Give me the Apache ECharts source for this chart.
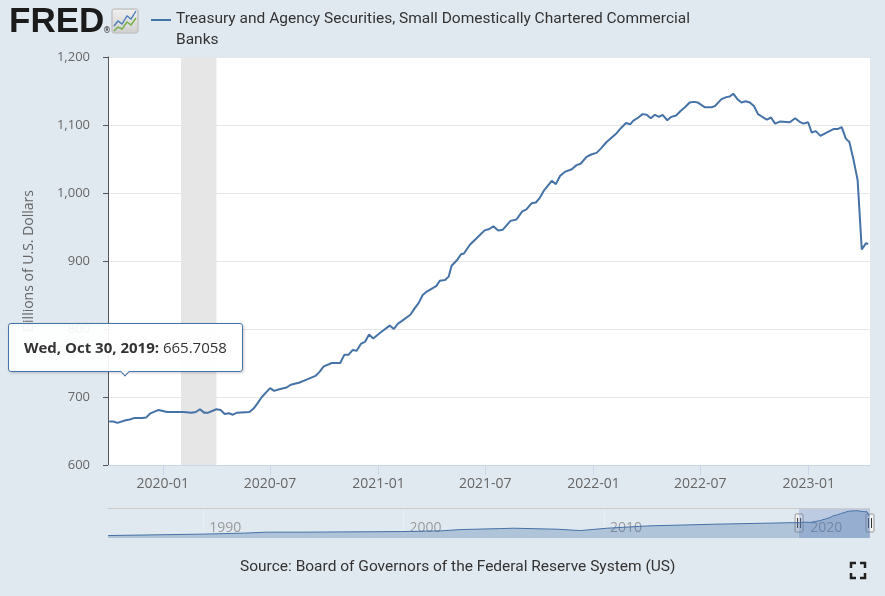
<!DOCTYPE html>
<html>
<head>
<meta charset="utf-8">
<script src="https://cdn.jsdelivr.net/npm/echarts@6/dist/echarts.min.js"></script>
<style>
  html, body { margin: 0; padding: 0; background: #e1e9f0; }
  #chart { width: 885px; height: 596px; }
</style>
</head>
<body>
<div id="chart"></div>
<script>
// series (billions of U.S. dollars, weekly-ish)
const seriesName = 'Treasury and Agency Securities, Small Domestically Chartered Commercial Banks';
const sourceText = 'Source: Board of Governors of the Federal Reserve System (US)';

const dates = [
  '2019-10-02', '2019-10-09', '2019-10-16', '2019-10-30', '2019-11-06', '2019-11-13', '2019-11-27',
  '2019-12-04', '2019-12-11', '2019-12-25', '2020-01-08', '2020-02-05', '2020-02-19', '2020-02-26',
  '2020-03-04', '2020-03-11', '2020-03-18', '2020-04-01', '2020-04-08', '2020-04-15', '2020-04-22',
  '2020-04-29', '2020-05-06', '2020-05-27', '2020-06-03', '2020-06-10', '2020-06-17', '2020-07-01',
  '2020-07-08', '2020-07-15', '2020-07-29', '2020-08-05', '2020-08-19', '2020-09-02', '2020-09-16',
  '2020-09-23', '2020-09-30', '2020-10-14', '2020-10-28', '2020-11-04', '2020-11-11', '2020-11-18',
  '2020-11-25', '2020-12-02', '2020-12-09', '2020-12-16', '2020-12-23', '2021-01-06', '2021-01-20',
  '2021-01-27', '2021-02-03', '2021-02-10', '2021-02-24', '2021-03-03', '2021-03-10', '2021-03-17',
  '2021-03-24', '2021-04-03', '2021-04-09', '2021-04-15', '2021-04-24', '2021-04-30', '2021-05-05',
  '2021-05-14', '2021-05-21', '2021-05-26', '2021-06-05', '2021-06-16', '2021-06-30', '2021-07-08',
  '2021-07-15', '2021-07-23', '2021-07-31', '2021-08-13', '2021-08-23', '2021-09-02', '2021-09-09',
  '2021-09-18', '2021-09-25', '2021-10-01', '2021-10-09', '2021-10-22', '2021-10-29', '2021-11-05',
  '2021-11-13', '2021-11-25', '2021-12-03', '2021-12-10', '2021-12-20', '2021-12-29', '2022-01-06',
  '2022-01-14', '2022-01-23', '2022-01-27', '2022-02-09', '2022-02-17', '2022-02-25', '2022-03-04',
  '2022-03-09', '2022-03-18', '2022-03-25', '2022-04-01', '2022-04-08', '2022-04-15', '2022-04-22',
  '2022-04-28', '2022-05-06', '2022-05-13', '2022-05-21', '2022-05-29', '2022-06-05', '2022-06-13',
  '2022-06-20', '2022-06-27', '2022-07-09', '2022-07-20', '2022-07-26', '2022-08-06', '2022-08-14',
  '2022-08-20', '2022-08-26', '2022-09-02', '2022-09-09', '2022-09-16', '2022-09-23', '2022-09-30',
  '2022-10-07', '2022-10-16', '2022-10-22', '2022-10-29', '2022-11-05', '2022-11-13', '2022-11-30',
  '2022-12-09', '2022-12-16', '2022-12-23', '2022-12-31', '2023-01-06', '2023-01-13', '2023-01-21',
  '2023-02-01', '2023-02-12', '2023-02-19', '2023-02-26', '2023-03-05', '2023-03-11', '2023-03-18',
  '2023-03-25', '2023-04-01', '2023-04-08', '2023-04-12'
];
const values = [
  664, 664, 662, 665.7058, 667, 669, 669,
  670, 676, 681, 678, 678, 677, 678,
  682, 677, 677, 682, 681, 675, 676,
  674, 677, 678, 683, 691, 700, 713,
  709, 711, 714, 718, 721, 726, 731,
  737, 745, 750, 750, 762, 762, 769,
  768, 778, 781, 792, 786, 796, 805,
  800, 808, 812, 821, 830, 838, 850,
  855, 860, 863, 871, 872, 877, 893,
  901, 910, 911, 924, 933, 945, 947,
  951, 945, 946, 959, 961, 973, 976,
  985, 986, 992, 1004, 1018, 1013, 1025,
  1031, 1035, 1041, 1043, 1053, 1057, 1059,
  1066, 1075, 1078, 1088, 1096, 1103, 1101,
  1106, 1111, 1116, 1115, 1110, 1115, 1112,
  1115, 1107, 1112, 1114, 1121, 1126, 1133,
  1134, 1133, 1126, 1126, 1128, 1138, 1141,
  1142, 1146, 1138, 1133, 1135, 1133, 1128,
  1116, 1111, 1108, 1111, 1102, 1105, 1104,
  1110, 1105, 1102, 1104, 1089, 1091, 1084,
  1089, 1094, 1094, 1097, 1080, 1075, 1049,
  1019, 917, 926, 925
];

// longer history shown only in the navigator strip
const histDates = [
  '1985-04-03', '1989-11-01', '1992-01-01', '1993-03-01', '1994-11-01', '1999-11-01', '2001-11-01',
  '2002-11-01', '2004-11-01', '2005-07-01', '2007-09-01', '2008-11-01', '2010-03-01', '2012-03-01',
  '2015-07-01', '2018-01-01', '2019-07-01'
];
const histValues = [
  156, 211, 250, 289, 289, 312, 340,
  391, 430, 445, 406, 352, 445, 535,
  602, 641, 664
];

const recession = ['2020-02-01', '2020-04-01'];
const tickLabels = ['2020-01', '2020-07', '2021-01', '2021-07', '2022-01', '2022-07', '2023-01'];
const navTickLabels = ['1990', '2000', '2010', '2020'];
const viewRange = ['2019-09-30', '2023-04-15'];
const navRange = ['1985-04-01', '2023-04-15'];
const tipDate = '2019-10-30';

const blue = '#4572a7';
const toTime = s => echarts.number.parseDate(s).getTime();

const mainData = dates.map((d, i) => [toTime(d), values[i]]);
const navData = histDates.map((d, i) => [toTime(d), histValues[i]]).concat(mainData);
const tipIndex = dates.indexOf(tipDate);
const tickValues = tickLabels.map(s => toTime(s + '-01'));
const navTickValues = navTickLabels.map(s => toTime(s + '-01-01'));

const chart = echarts.init(document.getElementById('chart'));

const iconGrad = new echarts.graphic.LinearGradient(0, 0, 0, 1, [
  { offset: 0, color: '#f0f0f0' },
  { offset: 1, color: '#cfcfcf' }
]);

const deco = [
  { type: 'text', x: 9, y: 5, style: { text: 'FRED', font: 'bold 35px "Liberation Sans", Arial, sans-serif', fill: '#1b1b1b', verticalAlign: 'top' } },
  { type: 'text', x: 103, y: 27, style: { text: '®', font: '8px "DejaVu Sans", sans-serif', fill: '#1b1b1b', verticalAlign: 'top' } },
  { type: 'rect', shape: { x: 112, y: 9, width: 26, height: 24, r: 2 }, style: { fill: iconGrad, stroke: '#c4c4c4' } },
  { type: 'polyline', shape: { points: [[114, 26], [118, 21], [122, 24], [127, 16], [131, 19], [136, 11]] }, style: { stroke: '#4a7bb7', lineWidth: 1.4, fill: null } },
  { type: 'polyline', shape: { points: [[114, 31], [118, 27], [122, 29], [127, 22], [131, 25], [136, 18]] }, style: { stroke: '#76b043', lineWidth: 1.4, fill: null } },
  { type: 'rect', shape: { x: 151, y: 19, width: 20, height: 2 }, style: { fill: blue } },
  { type: 'text', x: 176, y: 9, style: { text: seriesName, width: 528, overflow: 'break', lineHeight: 21, font: '15.5px Roboto', fill: '#333', verticalAlign: 'top' } },
  { type: 'text', x: 240, y: 559, style: { text: sourceText, font: '15.5px Roboto', fill: '#333', verticalAlign: 'top' } },
  { type: 'polyline', shape: { points: [[851, 568], [851, 563], [856, 563]] }, style: { stroke: '#222', lineWidth: 2.5, fill: null } },
  { type: 'polyline', shape: { points: [[860, 563], [865, 563], [865, 568]] }, style: { stroke: '#222', lineWidth: 2.5, fill: null } },
  { type: 'polyline', shape: { points: [[851, 573], [851, 578], [856, 578]] }, style: { stroke: '#222', lineWidth: 2.5, fill: null } },
  { type: 'polyline', shape: { points: [[860, 578], [865, 578], [865, 573]] }, style: { stroke: '#222', lineWidth: 2.5, fill: null } }
];

chart.setOption({
  animation: false,
  backgroundColor: '#e1e9f0',
  textStyle: { fontFamily: '"Open Sans", sans-serif' },
  grid: [
    { left: 108, right: 15, top: 57, height: 408, show: true, backgroundColor: '#ffffff', borderWidth: 0 },
    { left: 108, right: 15, top: 508, height: 30 }
  ],
  tooltip: {
    trigger: 'item',
    triggerOn: 'none',
    alwaysShowContent: true,
    position: 'top',
    transitionDuration: 0,
    backgroundColor: 'rgba(255,255,255,0.93)',
    borderColor: blue,
    borderWidth: 1,
    padding: [12, 15],
    textStyle: { color: '#333', fontSize: 15, fontFamily: '"Open Sans", sans-serif' },
    extraCssText: 'border-radius:3px;box-shadow:1px 1px 3px rgba(0,0,0,0.2);',
    formatter: p => '<b>' + echarts.time.format(p.value[0], '{ee}, {MMM} {d}, {yyyy}', false) + ':</b> ' + p.value[1]
  },
  xAxis: [
    {
      type: 'value',
      gridIndex: 0,
      min: toTime(viewRange[0]),
      max: toTime(viewRange[1]),
      axisLine: { lineStyle: { color: '#ccd6eb' } },
      axisTick: { show: true, length: 10, customValues: tickValues, lineStyle: { color: '#ccd6eb' } },
      axisLabel: {
        customValues: tickValues,
        formatter: v => echarts.time.format(v, '{yyyy}-{MM}', false),
        color: '#666', fontSize: 14, margin: 12
      },
      splitLine: { show: false }
    },
    {
      type: 'value',
      gridIndex: 1,
      min: toTime(navRange[0]),
      max: toTime(navRange[1]),
      axisLine: { show: false },
      axisTick: { show: false, customValues: navTickValues },
      axisLabel: {
        customValues: navTickValues,
        formatter: v => echarts.time.format(v, '{yyyy}', false),
        inside: true, align: 'left', padding: [0, 0, 0, 6],
        color: '#9a9a9a', fontSize: 14, margin: 3
      },
      splitLine: { show: true, lineStyle: { color: '#eaeef2' } }
    }
  ],
  yAxis: [
    {
      type: 'value',
      gridIndex: 0,
      min: 600, max: 1200, interval: 100,
      axisLabel: { formatter: v => v.toLocaleString('en-US'), color: '#666', fontSize: 13, margin: 18 },
      splitLine: { lineStyle: { color: '#e6e6e6' } },
      name: 'Billions of U.S. Dollars',
      nameLocation: 'middle',
      nameGap: 72,
      nameTextStyle: { color: '#666', fontSize: 14 }
    },
    {
      type: 'value',
      gridIndex: 1,
      min: 60, max: 1240,
      show: false
    }
  ],
  series: [
    {
      name: seriesName,
      type: 'line',
      xAxisIndex: 0,
      yAxisIndex: 0,
      data: mainData,
      color: blue,
      showSymbol: true,
      symbol: 'circle',
      symbolSize: (v, p) => (p.dataIndex === tipIndex ? 76 : 1),
      itemStyle: { opacity: 0 },
      lineStyle: { color: blue, width: 2 },
      emphasis: { disabled: true },
      markArea: {
        silent: true,
        itemStyle: { color: '#e6e6e6' },
        data: [[{ xAxis: toTime(recession[0]) }, { xAxis: toTime(recession[1]) }]]
      }
    },
    {
      type: 'line',
      xAxisIndex: 1,
      yAxisIndex: 1,
      data: navData,
      showSymbol: false,
      silent: true,
      tooltip: { show: false },
      lineStyle: { color: blue, width: 1 },
      areaStyle: { color: 'rgba(69,114,167,0.45)' },
      markArea: {
        silent: true,
        itemStyle: { color: 'rgba(102,133,194,0.3)' },
        data: [[{ xAxis: toTime(viewRange[0]) }, { xAxis: toTime(viewRange[1]) }]]
      },
      markLine: {
        silent: true,
        symbol: 'none',
        label: { show: false },
        lineStyle: { color: '#cccccc', type: 'solid', width: 1 },
        data: [{ yAxis: 1240 }]
      }
    }
  ],
  graphic: deco
});

// navigator handles at the ends of the visible window
const handleY = chart.convertToPixel({ yAxisIndex: 1 }, 650);
const handles = viewRange.map((d, i) => {
  const hx = chart.convertToPixel({ xAxisIndex: 1 }, toTime(d));
  return {
    type: 'group', id: 'handle' + i, x: hx, y: handleY,
    children: [
      { type: 'rect', shape: { x: -4, y: -9, width: 8, height: 18, r: 1 }, style: { fill: '#f2f2f2', stroke: '#999' } },
      { type: 'line', shape: { x1: -1.5, y1: -5, x2: -1.5, y2: 5 }, style: { stroke: '#333', lineWidth: 1 } },
      { type: 'line', shape: { x1: 1.5, y1: -5, x2: 1.5, y2: 5 }, style: { stroke: '#333', lineWidth: 1 } }
    ]
  };
});
chart.setOption({ graphic: deco.concat(handles) });

chart.dispatchAction({ type: 'showTip', seriesIndex: 0, dataIndex: tipIndex });
</script>
</body>
</html>
